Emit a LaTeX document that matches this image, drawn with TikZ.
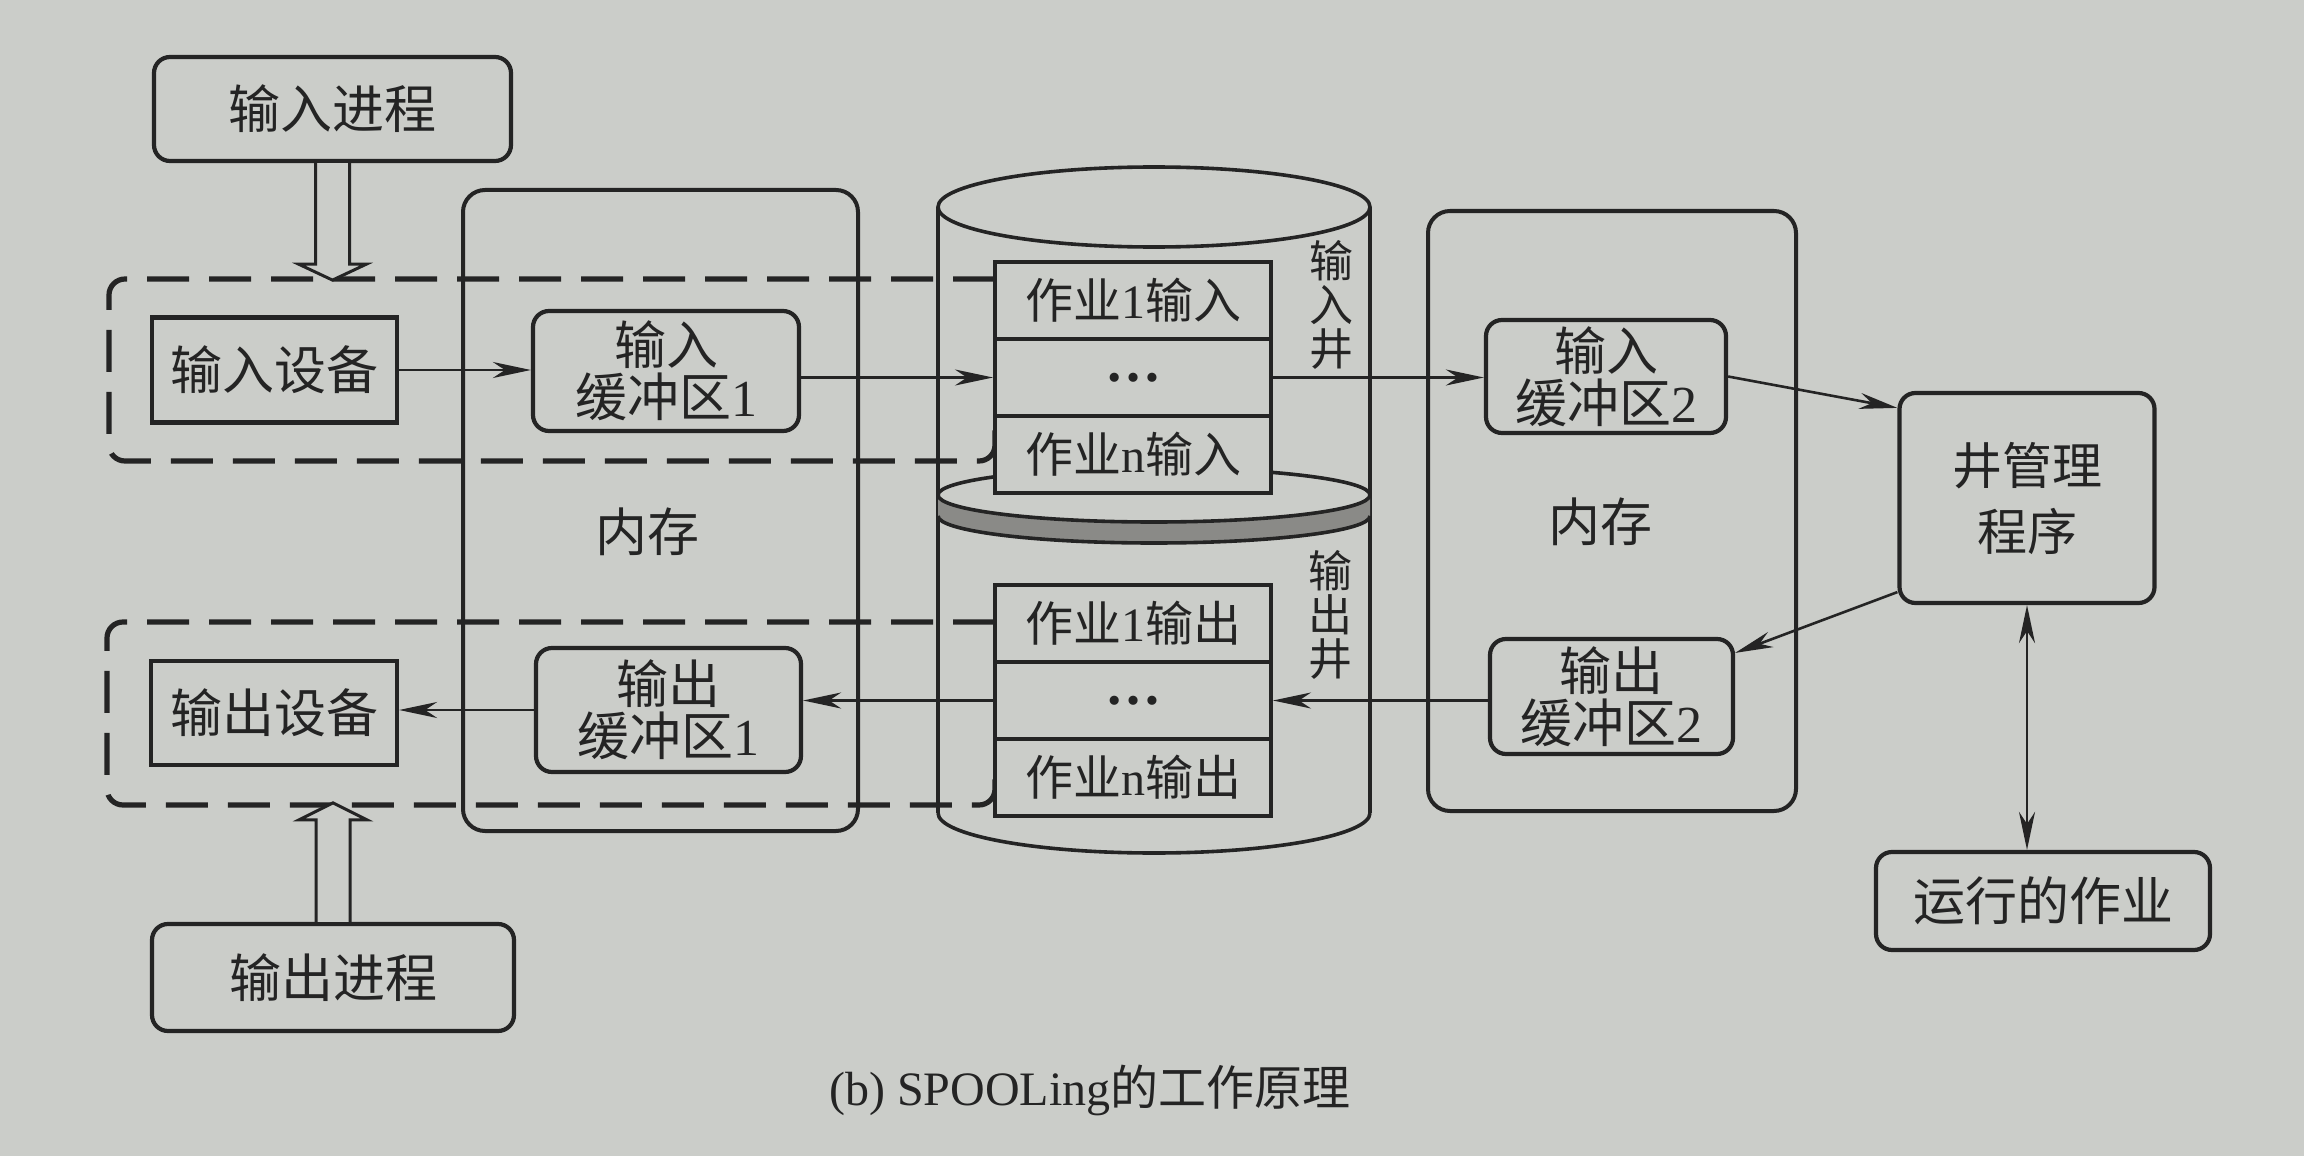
\documentclass[tikz,border=0pt]{standalone}
\usepackage{fontspec}
\setmainfont{Liberation Serif}
\newfontfamily\cjk{Noto Sans CJK SC}
\usetikzlibrary{arrows.meta,calc}
\newcommand{\latn}[1]{{\rmfamily #1}}
\newcommand{\jobdots}{{\rmfamily\bfseries\fontsize{28}{28}\selectfont …}}
\definecolor{paper}{RGB}{203,205,201}
\definecolor{ink}{RGB}{36,36,36}
\definecolor{hatch}{RGB}{138,138,135}
\begin{document}
\begin{tikzpicture}[x=0.5pt,y=-0.5pt,
  every node/.style={text=ink, inner sep=0pt},
  bx/.style={draw=ink, line width=2.1pt, fill=paper, align=center, font=\cjk\fontsize{26}{26}\selectfont},
  rbx/.style={bx, rounded corners=8pt},
  mem/.style={draw=ink, line width=2pt, rounded corners=11pt},
  memlbl/.style={font=\cjk\fontsize{26}{26}\selectfont},
  job/.style={draw=ink, line width=2pt, fill=paper, minimum width=138pt, minimum height=38.5pt, font=\cjk\fontsize{24}{24}\selectfont},
  cyl/.style={draw=ink, line width=1.8pt},
  dbox/.style={draw=ink, line width=2.6pt, dash pattern=on 21pt off 10pt, rounded corners=8pt},
  tip/.style={Stealth[length=19pt,width=8pt,inset=6pt]},
  arr/.style={draw=ink, line width=1.3pt, -{Stealth[length=19pt,width=8pt,inset=6pt]}},
  dblarr/.style={draw=ink, line width=1.3pt, {Stealth[length=19pt,width=8pt,inset=6pt]}-{Stealth[length=19pt,width=8pt,inset=6pt]}},
  hollow/.style={draw=ink, fill=paper, line width=1.5pt, line join=miter},
  vlbl/.style={align=center, font=\cjk\fontsize{22}{22}\selectfont}
]
\useasboundingbox (0,0) rectangle (2304,1156);
\fill[paper] (0,0) rectangle (2304,1156);

% memory boxes
\node[mem, minimum width=197.5pt, minimum height=320.5pt] (memL) at (660.5,510.5) {};
\node[mem, minimum width=184pt, minimum height=300pt] (memR) at (1612,511) {};
\node[memlbl] (memLt) at (647,532) {内存};
\node[memlbl] (memRt) at (1600,522) {内存};

% cylinder
\draw[cyl] (1154,207) ellipse [x radius=108pt, y radius=20pt];
\draw[cyl] (938,207) -- (938,813);
\draw[cyl] (1370,207) -- (1370,813);
\draw[cyl] (938,813) arc [start angle=180, end angle=360, x radius=108pt, y radius=20pt];
% separating disk
\fill[hatch] (938,495) arc [start angle=180, end angle=360, x radius=108pt, y radius=13.5pt]
  -- (1370,516) arc [start angle=0, end angle=-180, x radius=108pt, y radius=13.5pt] -- cycle;
\draw[cyl] (1154,495) ellipse [x radius=108pt, y radius=13.5pt];
\draw[cyl] (938,516) arc [start angle=180, end angle=360, x radius=108pt, y radius=13.5pt];

% dashed groups
\draw[dbox] (995,279) -- (109,279) -- (109,461) -- (995,461) -- (995,430);
\draw[dbox] (995,622) -- (107,622) -- (107,805) -- (995,805) -- (995,775);

% wells
\node[job] (j1i) at (1133,300.5) {作业\latn{1}输入};
\node[job] (jdi) at (1133,377.5) {\jobdots};
\node[job] (jni) at (1133,454.5) {作业\latn{n}输入};
\node[job] (j1o) at (1133,623.5) {作业\latn{1}输出};
\node[job] (jdo) at (1133,700.5) {\jobdots};
\node[job] (jno) at (1133,777.5) {作业\latn{n}输出};
\node[vlbl] (lblIn) at (1331,305) {输\\入\\井};
\node[vlbl] (lblOut) at (1330,615) {输\\出\\井};

% boxes
\node[rbx, minimum width=178.5pt, minimum height=52pt] (ip) at (332.5,109) {输入进程};
\node[bx, minimum width=122.5pt, minimum height=52.5pt] (idev) at (274.5,370) {输入设备};
\node[rbx, minimum width=133pt, minimum height=60pt] (ib1) at (666,371) {输入\\缓冲区\latn{1}};
\node[bx, minimum width=123pt, minimum height=52pt] (odev) at (274,713) {输出设备};
\node[rbx, minimum width=132.5pt, minimum height=62pt] (ob1) at (668.5,710) {输出\\缓冲区\latn{1}};
\node[rbx, minimum width=181pt, minimum height=53.5pt] (op) at (333,977.5) {输出进程};
\node[rbx, minimum width=120pt, minimum height=56.5pt] (ib2) at (1606,376.5) {输入\\缓冲区\latn{2}};
\node[rbx, minimum width=121.5pt, minimum height=57.5pt] (ob2) at (1611.5,696.5) {输出\\缓冲区\latn{2}};
\node[rbx, minimum width=127.5pt, minimum height=105pt, font=\cjk\fontsize{25}{33}\selectfont] (jm) at (2027,498) {井管理\\程序};
\node[rbx, minimum width=167pt, minimum height=49pt] (run) at (2043,901) {运行的作业};

% arrows
\draw[arr] (idev.east) -- (idev.east -| ib1.west);
\draw[arr] (ib1.east |- jdi.west) -- (jdi.west);
\draw[arr] (jdi.east) -- (jdi.east -| ib2.west);
\draw[arr] (ib2.east) -- ([yshift=-8.5pt]jm.north west);
\draw[arr] ([yshift=6.5pt]jm.south west) -- ([yshift=-8pt]ob2.north east);
\draw[arr] (ob2.west |- jdo.east) -- (jdo.east);
\draw[arr] (jdo.west) -- (jdo.west -| ob1.east);
\draw[arr] (ob1.west) -- (ob1.west -| odev.east);
\draw[dblarr] (jm.south) -- (jm.south |- run.north);

% hollow arrows
\draw[hollow] ($(ip.south)+(-17,0)$) -- ++(0,101) -- ++(-17,0) -- ($(ip.south)+(0,117)$) -- ++(34,-16) -- ++(-17,0) -- ($(ip.south)+(17,0)$);
\draw[hollow] ($(op.north)+(-17,0)$) -- ++(0,-102) -- ++(-17,0) -- ($(op.north)+(0,-119)$) -- ++(34,17) -- ++(-17,0) -- ($(op.north)+(17,0)$);

% caption
\node[font=\fontsize{24}{24}\selectfont] (cap) at (1090,1090) {(b) SPOOLing{\cjk 的工作原理}};
\end{tikzpicture}
\end{document}
